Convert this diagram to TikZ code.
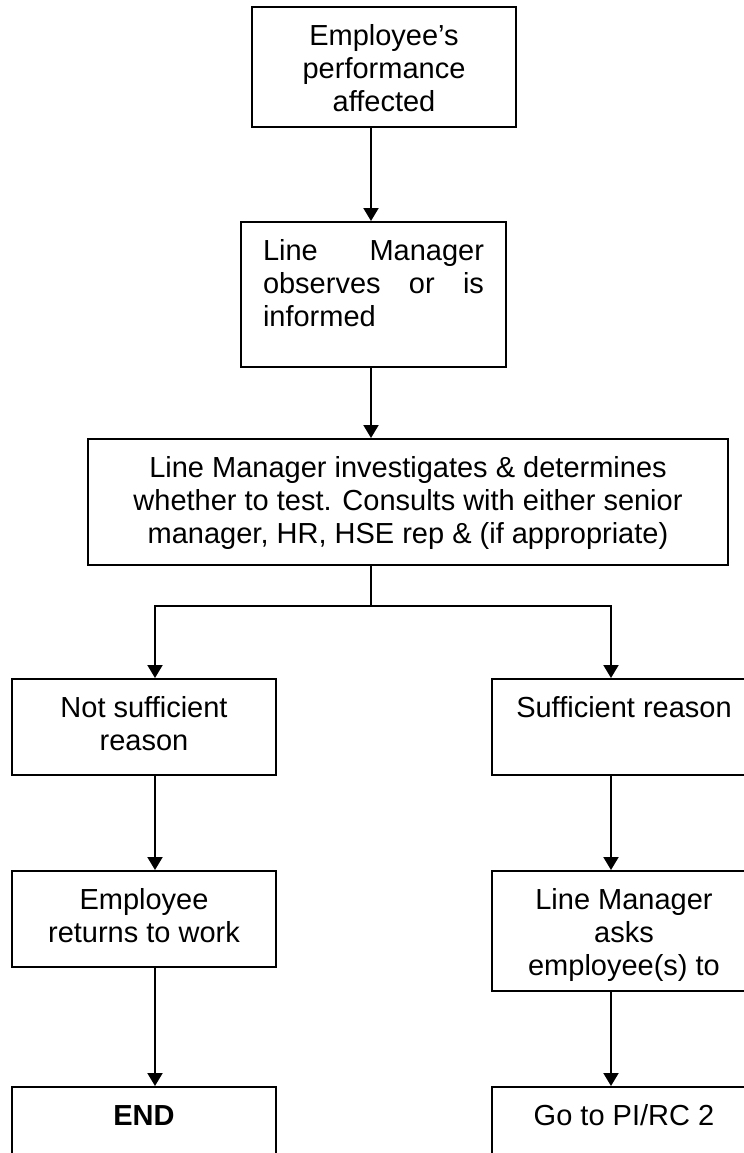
\documentclass[tikz,border=0pt]{standalone}
\usepackage{fontspec}
\setmainfont{Liberation Sans}
\usetikzlibrary{arrows.meta,shapes}
\newcommand{\flowtext}[3]{\parbox[c][#2][t]{#1}{\centering\rule{0pt}{19pt}#3}}

\begin{document}
\begin{tikzpicture}
[x=0.5pt,y=-0.5pt,
lineDecorateout/.style={-{Triangle[width=7.5pt,length=6.5pt]},line width=1pt}, %
lineDecorate/.style={-,line width=1pt},%
stepbox/.style={draw,line width=1pt,inner sep=0pt,anchor=north west,font=\fontsize{14.5pt}{16.5pt}\selectfont}]

\path[use as bounding box,fill=white] (0,0) rectangle (744,1153);

%% nodes or vertices
\foreach \nodename/\x/\y/\boxw/\boxh/\boxtxt in {
perf/251/6/132pt/60pt/{Employee's\\performance\\affected},
invest/87/438/320pt/63pt/{Line Manager investigates \& determines\\whether to test. Consults with either senior\\manager, HR, HSE rep \& (if appropriate)},
notsuff/11/678/132pt/48pt/{Not sufficient\\reason},
suff/491/678/132pt/48pt/{Sufficient reason},
returns/11/870/132pt/48pt/{Employee\\returns to work},
asks/491/870/132pt/60pt/{Line Manager\\asks\\employee(s) to},
endbox/11/1086/132pt/50pt/{\textbf{END}},
goto/491/1086/132pt/50pt/{Go to PI/RC 2}}
{
\node[stepbox] (\nodename) at (\x,\y) {\flowtext{\boxw}{\boxh}{\boxtxt}};
}
\node[stepbox,inner xsep=11pt] (observe) at (240,221) {\parbox[c][72.5pt][t]{110.5pt}{\rule{0pt}{19pt}Line\hfill Manager\\observes\hfill or\hfill is\\informed}};

\coordinate (midlane) at (371,606);
\coordinate (leftlane) at (155,606);
\coordinate (rightlane) at (611,606);

%% edges or lines
\draw[lineDecorateout] (perf.south -| midlane) -- (observe.north -| midlane);
\draw[lineDecorateout] (observe.south -| midlane) -- (invest.north -| midlane);
\draw[lineDecorate] (invest.south -| midlane) -- (midlane);
\draw[lineDecorateout] (midlane) -| (notsuff.north -| leftlane);
\draw[lineDecorateout] (midlane) -| (suff.north -| rightlane);

\path
\foreach \startnode/\endnode/\lane in {notsuff/returns/leftlane, returns/endbox/leftlane, suff/asks/rightlane, asks/goto/rightlane}
{
(\startnode.south -| \lane) edge[lineDecorateout] (\endnode.north -| \lane)
};

\end{tikzpicture}
\end{document}
